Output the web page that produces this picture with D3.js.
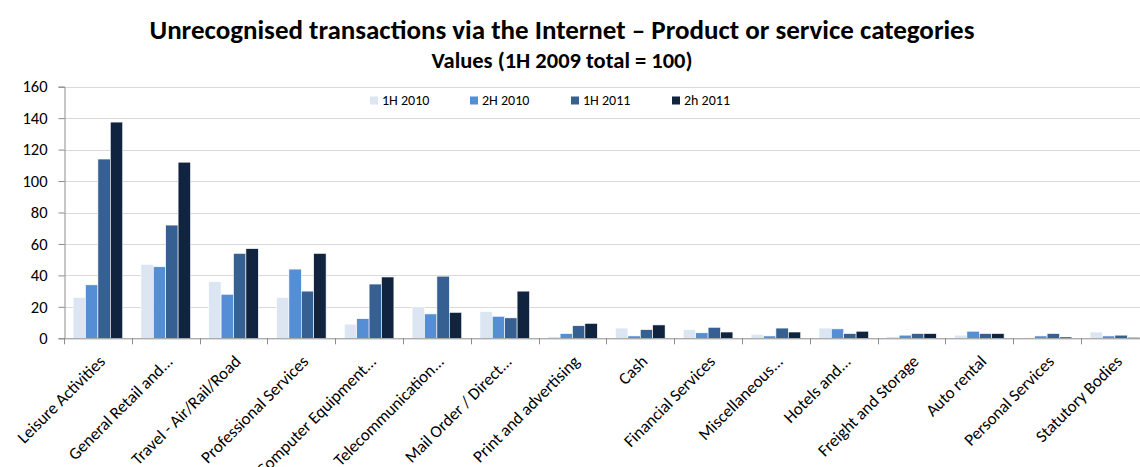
<!DOCTYPE html>
<html>
<head>
<meta charset="utf-8">
<script src="https://cdn.jsdelivr.net/npm/d3@7"></script>
<style>
  html, body { margin: 0; padding: 0; background: #fff; }
  svg { display: block; font-family: Carlito, Calibri, "Open Sans", "Liberation Sans", sans-serif; }
</style>
</head>
<body>
<svg id="chart" width="1140" height="467"></svg>
<script>
const categories = [
  "Leisure Activities", "General Retail and...", "Travel - Air/Rail/Road",
  "Professional Services", "Computer Equipment...", "Telecommunication...",
  "Mail Order / Direct...", "Print and advertising", "Cash", "Financial Services",
  "Miscellaneous...", "Hotels and...", "Freight and Storage", "Auto rental",
  "Personal Services", "Statutory Bodies"
];
const seriesNames = ["1H 2010", "2H 2010", "1H 2011", "2h 2011"];
const h1_2010 = [26, 47, 36, 26, 9, 20, 17, 1, 6.5, 5.5, 2.5, 6.5, 1, 2, 0.5, 4];
const h2_2010 = [34, 45.5, 28, 44, 12.5, 15.5, 14, 3, 1.5, 3.5, 1.5, 6, 2, 4.5, 1.5, 1.5];
const h1_2011 = [114, 72, 54, 30, 34.5, 39.5, 13, 8, 5.5, 7, 6.5, 3, 3, 3, 3, 2];
const h2_2011 = [137.5, 112, 57, 54, 39, 16.5, 30, 9.5, 8.5, 4, 4, 4.5, 3, 3, 0.8, 0.6];
const yTicks = [0, 20, 40, 60, 80, 100, 120, 140, 160];
const colors = ["#dce6f2", "#558ed5", "#376092", "#10243f"];

const series = [h1_2010, h2_2010, h1_2011, h2_2011];
const svg = d3.select("#chart");

const plotLeft = 64, plotTop = 86.7, plotBottom = 338.3;
const bandW = 67.8;
const x0 = d3.scaleBand().domain(categories)
  .range([plotLeft, plotLeft + bandW * categories.length]).paddingInner(0).paddingOuter(0);
const x1 = d3.scaleBand().domain(seriesNames)
  .range([0, bandW]).paddingOuter(0.734).paddingInner(0);
const y = d3.scaleLinear().domain([0, 160]).range([plotBottom, plotTop]);

// Title
svg.append("text").attr("x", 562).attr("y", 39).attr("text-anchor", "middle")
  .attr("font-weight", "bold").attr("font-size", 27).attr("fill", "#000")
  .text("Unrecognised transactions via the Internet \u2013 Product or service categories");
svg.append("text").attr("x", 562).attr("y", 68).attr("text-anchor", "middle")
  .attr("font-weight", "bold").attr("font-size", 22.5).attr("fill", "#000")
  .text("Values (1H 2009 total = 100)");

// Gridlines
svg.append("g").selectAll("line").data(yTicks.filter(d => d > 0)).join("line")
  .attr("x1", plotLeft).attr("x2", 1140)
  .attr("y1", d => Math.round(y(d)) + 0.5).attr("y2", d => Math.round(y(d)) + 0.5)
  .attr("stroke", "#d9d9d9").attr("stroke-width", 1.2);

// Y axis
const yAxis = svg.append("g").attr("transform", `translate(${plotLeft + 0.5},0)`)
  .call(d3.axisLeft(y).tickValues(yTicks).tickSize(6).tickPadding(11));
yAxis.selectAll(".domain, .tick line").attr("stroke", "#8c8c8c");
yAxis.selectAll("text").attr("font-size", 16.5).attr("fill", "#000")
  .attr("font-family", "Carlito, Calibri, 'Open Sans', sans-serif");

// Bars
const groups = svg.append("g").selectAll("g").data(categories).join("g")
  .attr("transform", d => `translate(${x0(d)},0)`);
groups.selectAll("rect")
  .data((d, i) => seriesNames.map((s, j) => ({ s, v: series[j][i], j })))
  .join("rect")
  .attr("x", d => x1(d.s))
  .attr("width", x1.bandwidth())
  .attr("y", d => y(d.v))
  .attr("height", d => plotBottom - y(d.v))
  .attr("fill", d => colors[d.j])
  .attr("stroke", "#ffffff").attr("stroke-width", 0.6);

// X axis with ticks at category boundaries
const boundaries = d3.range(categories.length + 1).map(i => plotLeft + i * bandW);
const xg = svg.append("g");
xg.append("line").attr("x1", plotLeft).attr("x2", 1140)
  .attr("y1", plotBottom + 0.5).attr("y2", plotBottom + 0.5).attr("stroke", "#8c8c8c");
xg.selectAll("line.tick").data(boundaries).join("line").attr("class", "tick")
  .attr("x1", d => Math.round(d) + 0.5).attr("x2", d => Math.round(d) + 0.5)
  .attr("y1", plotBottom).attr("y2", plotBottom + 6).attr("stroke", "#8c8c8c");

// Category labels, rotated
xg.selectAll("text").data(categories).join("text")
  .attr("transform", d => `translate(${x0(d) + bandW / 2 + 4},${plotBottom + 20}) rotate(-45)`)
  .attr("text-anchor", "end").attr("font-size", 17).attr("fill", "#000")
  .attr("dy", "0.35em")
  .text(d => d);

// Legend
const legendX = [370, 470, 571, 672];
const lg = svg.append("g").selectAll("g").data(seriesNames).join("g")
  .attr("transform", (d, i) => `translate(${legendX[i]},96.5)`);
lg.append("rect").attr("width", 8).attr("height", 8).attr("fill", (d, i) => colors[i]);
lg.append("text").attr("x", 12).attr("y", 8.5).attr("font-size", 14).attr("fill", "#000").text(d => d);
</script>
</body>
</html>
